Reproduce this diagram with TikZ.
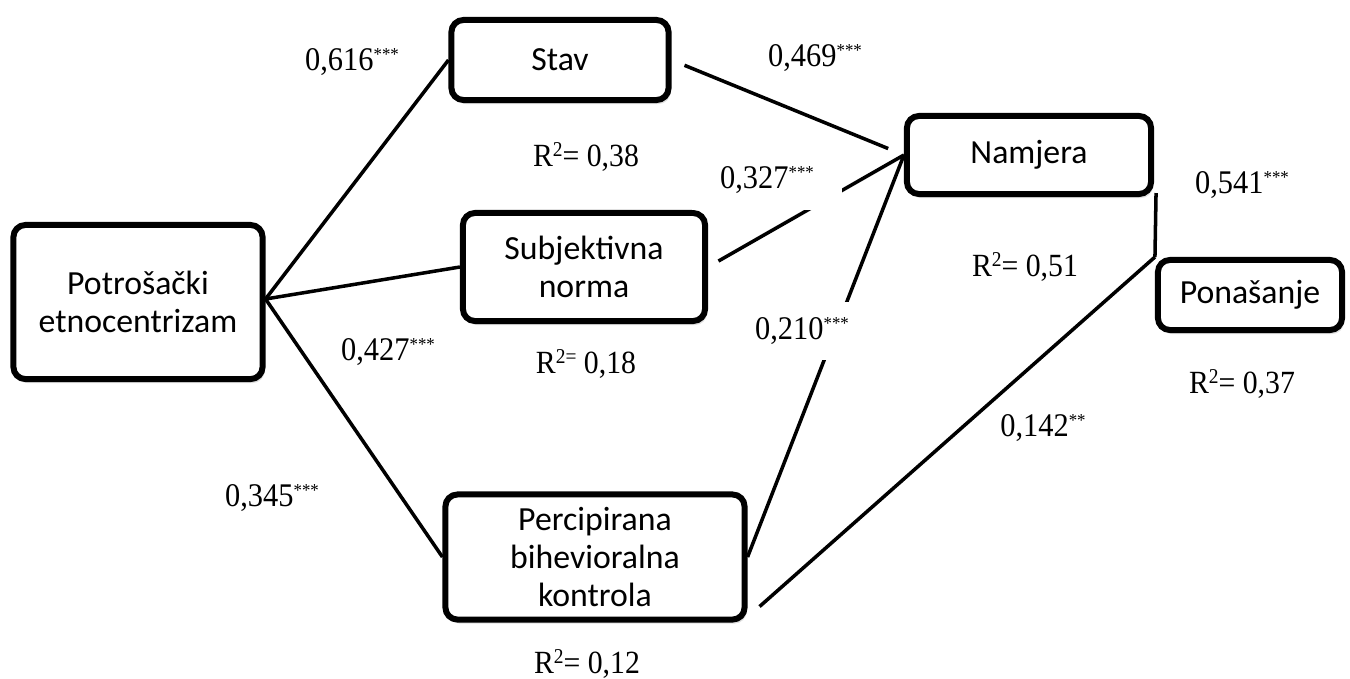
\documentclass[tikz,border=0pt]{standalone}
\usepackage{fontspec}
\setmainfont{Liberation Serif}
\newfontfamily\boxfont{Carlito}
\newfontfamily\coeffont[FakeStretch=0.92]{Liberation Serif}
\newcommand{\stars}[1]{\raisebox{3pt}{\fontsize{5.2}{5.2}\selectfont #1}}
\newcommand{\rsup}[1]{\raisebox{3pt}{\fontsize{6}{6}\selectfont #1}}
\usetikzlibrary{shadows,calc}
\begin{document}
\begin{tikzpicture}[x=0.01cm,y=-0.01cm,
  box/.style={draw, line width=1.7pt, rounded corners=0.12cm, fill=white, inner sep=0pt,
    align=center, font=\boxfont\fontsize{9.6}{10.8}\selectfont,
    drop shadow={opacity=0.25, shadow xshift=0.02cm, shadow yshift=-0.04cm}},
  conn/.style={line width=1pt},
  lab/.style={font=\coeffont\fontsize{9.4}{10}\selectfont, inner sep=0pt},
  rlab/.style={font=\coeffont\fontsize{9.2}{10}\selectfont, inner sep=0pt},
  masklab/.style={lab, fill=white}]
\useasboundingbox (0,0) rectangle (1350,678);

% boxes
\node[box, minimum width=2.49cm, minimum height=1.54cm] (pe) at (138,302) {Potrošački\\etnocentrizam};
\node[box, minimum width=2.17cm, minimum height=0.80cm] (stav) at (560,60) {Stav};
\node[box, minimum width=2.42cm, minimum height=1.08cm] (sn) at (584,267) {Subjektivna\\norma};
\node[box, minimum width=2.99cm, minimum height=1.25cm] (pbk) at (595,557) {Percipirana\\bihevioralna\\kontrola};
\node[box, minimum width=2.44cm, minimum height=0.78cm] (nam) at (1029,155) {Namjera};
\node[box, minimum width=1.84cm, minimum height=0.70cm] (pon) at (1250,295) {Ponašanje};

% connectors
\draw[conn] ([yshift=0.03cm]pe.east) -- (stav.west);
\draw[conn] ([yshift=0.03cm]pe.east) -- (sn.west);
\draw[conn] ([yshift=0.03cm]pe.east) -- (pbk.west);
\draw[conn, shorten <=0.14cm, shorten >=0.17cm] (stav.east) -- (nam.west);
\draw[conn, shorten <=0.12cm] (sn.east) -- (nam.west);
\draw[conn] (pbk.east) -- (nam.west);
\coordinate (pbkout) at ($(pbk.south east)+(12,-16)$);
\draw[conn] (pbkout) -- (pon.north west);
\draw[conn] ([xshift=0.02cm,yshift=0.04cm]nam.south east) -- (pon.north west);

% labels
\node[lab] (l616) at (352,62) {0,616\stars{***}};
\node[lab] (l469) at (815,58) {0,469\stars{***}};
\node[rlab] (r38) at (586,157) {R\rsup{2}= 0,38};
\node[masklab, minimum width=1.50cm, minimum height=0.60cm] (l327) at (767,180) {0,327\stars{***}};
\node[lab] (l541) at (1242,185) {0,541\stars{***}};
\node[rlab] (r51) at (1025,267) {R\rsup{2}= 0,51};
\node[lab] (l427) at (388,352) {0,427\stars{***}};
\node[rlab] (r18) at (586,364) {R\rsup{2=} 0,18};
\node[masklab, minimum width=1.15cm, minimum height=0.58cm] (l210) at (802,331) {0,210\stars{***}};
\node[rlab] (r37) at (1242,384) {R\rsup{2}= 0,37};
\node[lab] (l142) at (1043,428) {0,142\stars{**}};
\node[lab] (l345) at (272,498) {0,345\stars{***}};
\node[rlab] (r12) at (587,664) {R\rsup{2}= 0,12};
\end{tikzpicture}
\end{document}
